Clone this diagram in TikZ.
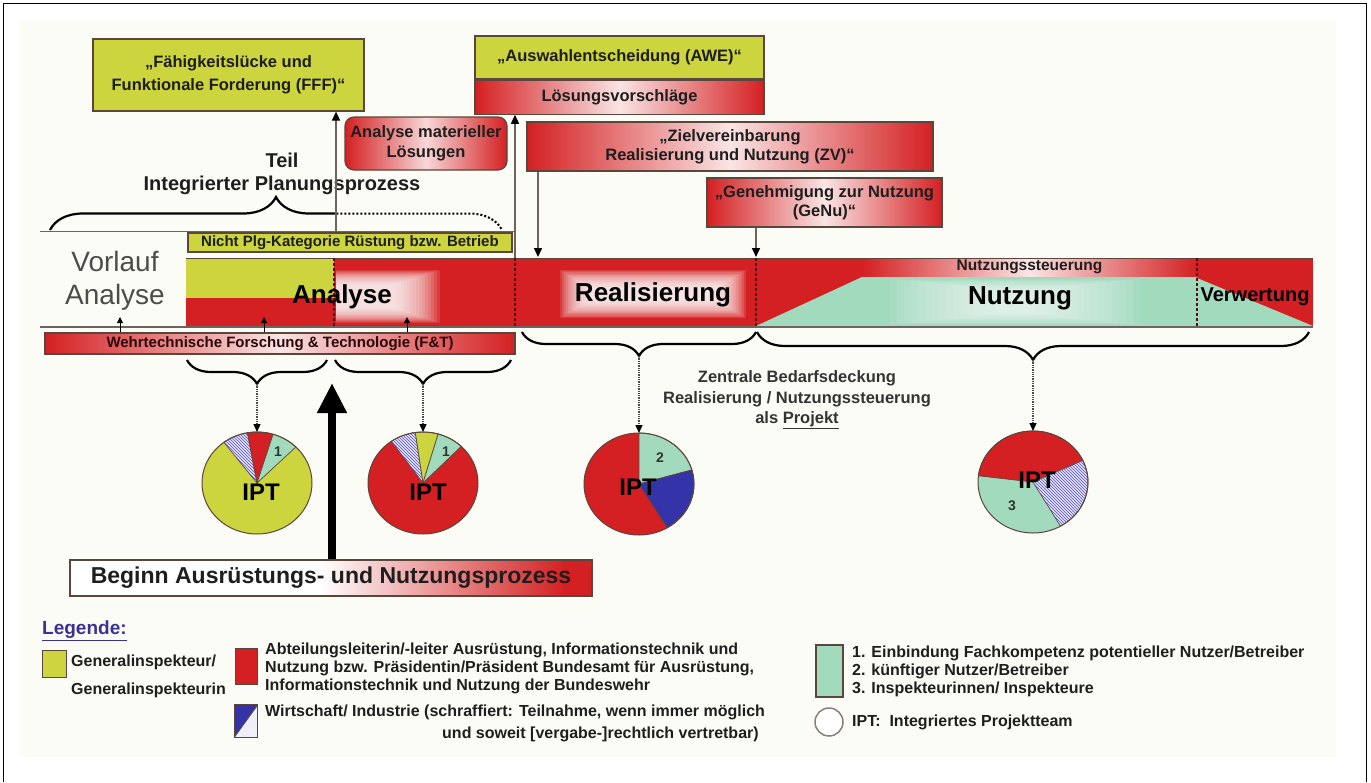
\documentclass[tikz,border=0pt]{standalone}
\usepackage{fontspec}
\setmainfont{Liberation Sans}
\usetikzlibrary{arrows.meta,decorations.pathreplacing,patterns,shapes.geometric}
\definecolor{ygreen}{RGB}{204,212,62}
\definecolor{pred}{RGB}{212,32,34}
\definecolor{mint}{RGB}{162,218,190}
\definecolor{pblue}{RGB}{52,52,168}
\definecolor{lav}{RGB}{226,222,242}
\definecolor{hatchb}{RGB}{90,90,190}
\definecolor{cream}{RGB}{252,252,246}
\definecolor{boxline}{RGB}{90,70,60}
\definecolor{txt}{RGB}{30,30,30}
\definecolor{legblue}{RGB}{60,50,150}
\definecolor{greyline}{RGB}{110,100,95}
\newcommand\pieslice[5]{\begin{scope}[shift={(#1,#2)}, y=1pt]\filldraw[draw=boxline, line width=0.7pt, #5] (0,0) -- (#3:55 and 51) arc[start angle=#3, end angle=#4, x radius=55, y radius=51] -- cycle;\end{scope}}
\tikzset{
 sm/.style={font=\fontsize{16.5}{19}\selectfont\bfseries, text=txt, align=center},
 ybox/.style={sm, draw=boxline, line width=1.2pt, fill=ygreen, inner sep=0pt},
 rbox/.style={sm, draw=boxline, line width=1.2pt, left color=pred, right color=pred, middle color=white!88!pred, inner sep=0pt},
 vline/.style={draw=greyline, line width=1.5pt, -{Triangle[width=8pt,length=9pt,color=black]}},
 smallarr/.style={draw=black, line width=1pt, -{Triangle[width=6pt,length=6pt]}},
 divider/.style={draw=pred!40!black, densely dashed, line width=1.2pt},
 brc/.style={decorate, line width=2.2pt, draw=black},
 dotarr/.style={draw=black!70, densely dotted, line width=1.3pt, -{Triangle[width=7pt,length=8pt,color=black]}},
 big/.style={font=\fontsize{26}{26}\selectfont\bfseries, text=black},
 pie/.style={ellipse, minimum width=110pt, minimum height=102pt, inner sep=0pt, outer sep=0pt},
 ipt/.style={font=\fontsize{24}{24}\selectfont\bfseries, text=black},
 num/.style={font=\fontsize{14}{14}\selectfont\bfseries, text=black!80},
 hatch/.style={fill=lav, postaction={pattern=north west lines, pattern color=hatchb}},
 lt/.style={font=\fontsize{16}{18}\selectfont\bfseries, text=txt, inner sep=0pt, align=left},
}
\begin{document}
\begin{tikzpicture}[x=1pt,y=-1pt]
\useasboundingbox (0,0) rectangle (1371,782);
\fill[white] (0,0) rectangle (1371,782);
\fill[cream] (20,20) rectangle (1336,757);
\draw[line width=1.3pt] (3.5,782) -- (3.5,3.5) -- (1366.5,3.5) -- (1366.5,782);

% ---------- top boxes
\node[ybox, minimum width=271pt, minimum height=72pt, font=\fontsize{16.5}{23}\selectfont\bfseries] (fff) at (228.5,75) {„Fähigkeitslücke und\\Funktionale Forderung (FFF)“};
\node[ybox, minimum width=289pt, minimum height=43pt] (awe) at (619.5,57.5) {„Auswahlentscheidung (AWE)“};
\node[rbox, minimum width=289pt, minimum height=34pt, anchor=north] (lsg) at (awe.south) {Lösungsvorschläge};
\node[rbox, rounded corners=9pt, middle color=pred!18!white, minimum width=162pt, minimum height=53pt, font=\fontsize{16.5}{20}\selectfont\bfseries] (aml) at (426,143.5) {Analyse materieller\\Lösungen};
\node[rbox, minimum width=406pt, minimum height=49pt] (zv) at (730,146.5) {„Zielvereinbarung\\Realisierung und Nutzung (ZV)“};
\node[rbox, minimum width=235pt, minimum height=49pt] (genu) at (824.5,202.5) {„Genehmigung zur Nutzung\\(GeNu)“};

\node[font=\fontsize{20}{23}\selectfont\bfseries, text=txt, align=center] (teil) at (282,173.5) {Teil\\Integrierter Planungsprozess};

% top brace
\begin{scope}
\clip (30,150) rectangle (336,240);
\draw[brc, decoration={brace, amplitude=33pt}] (50,230) -- (502,230);
\end{scope}
\begin{scope}
\clip (336,150) rectangle (530,240);
\draw[brc, line width=2pt, dotted, decoration={brace, amplitude=33pt}] (50,230) -- (502,230);
\end{scope}

\draw[greyline, line width=1pt] (40,231) -- (515,231);
\node[ybox, font=\fontsize{15}{15}\selectfont\bfseries, minimum width=324pt, minimum height=19pt] (npk) at (350,242.5) {Nicht Plg-Kategorie Rüstung bzw. Betrieb};

% ---------- main band
\fill[pred] (186,258) rectangle (1313,326);
\fill[ygreen] (186,258) rectangle (334,298);
\fill[mint] (756,326) -- (862,277) -- (1197,277) -- (1197,326) -- cycle;
\fill[mint] (1197,278) -- (1313,326) -- (1197,326) -- cycle;
\foreach \k in {0,...,15} \fill[white, opacity=0.12] (336,{270+\k*1}) rectangle ({440-\k*3},{323-\k*1});
\foreach \k in {0,...,15} \fill[white, opacity=0.13] ({560+\k*2},{270+\k*1.2}) rectangle ({746-\k*2},{318-\k*1.2});
\foreach \k in {0,...,15} \fill[white, opacity=0.07] ({890+\k*7},{279+\k*0.8}) rectangle ({1140-\k*7},{325-\k*0.8});
\node[rbox, draw=none, font=\fontsize{15.5}{15.5}\selectfont\bfseries, minimum width=335pt, minimum height=18pt] (nst) at (1029.5,267) {Nutzungssteuerung};
\draw[boxline, line width=1pt] (186,258) -- (1313,258);
\draw[greyline, line width=1.2pt] (40,327) -- (1313,327);
\draw[divider] (334,258) -- (334,326);
\draw[divider] (515,258) -- (515,326);
\draw[divider] (756,258) -- (756,326);
\draw[divider] (1197,258) -- (1197,326);

\node[font=\fontsize{28}{33}\selectfont, text=black!70, align=center] (vorl) at (115,281) {Vorlauf\\Analyse};
\node[big] (ana) at (342,297) {Analyse};
\node[big] (real) at (653,295) {Realisierung};
\node[big] (nutz) at (1020,298) {Nutzung};
\node[font=\fontsize{20}{20}\selectfont\bfseries, text=black] (verw) at (1255,297) {Verwertung};

% arrows from top boxes
\coordinate (fffbase) at (336,231);
\draw[vline] (fffbase) -- (fffbase |- fff.south);
\coordinate (awebase) at (515,258);
\draw[vline] (awebase) -- (awebase |- lsg.south);
\coordinate (zvend) at (538,257);
\draw[vline] (zvend |- zv.south) -- (zvend);
\coordinate (genuend) at (756,257);
\draw[vline] (genuend |- genu.south) -- (genuend);

% F&T bar
\node[rbox, font=\fontsize{15}{15}\selectfont\bfseries, text=black!80!pred, minimum width=470pt, minimum height=21pt] (ft) at (280,343.5) {Wehrtechnische Forschung \& Technologie (F\&T)};
\coordinate (u1) at (120,317);
\coordinate (u2) at (264,317);
\coordinate (u3) at (407,317);
\draw[smallarr] (u1 |- ft.north) -- (u1);
\draw[smallarr] (u2 |- ft.north) -- (u2);
\draw[smallarr] (u3 |- ft.north) -- (u3);

% lower braces
\draw[brc, decoration={brace, amplitude=24pt}] (327,360) -- (187,360);
\draw[brc, decoration={brace, amplitude=24pt}] (511,360) -- (335,360);
\draw[brc, decoration={brace, amplitude=24pt}] (756,332) -- (522,332);
\draw[brc, decoration={brace, amplitude=28pt}] (1309,332) -- (757,332);
\coordinate (bA) at (257,384);
\coordinate (bB) at (423,384);
\coordinate (bC) at (639,356);
\coordinate (bD) at (1033,360);

% pies
\node[pie, fill=ygreen] (pie1) at (257,483) {};
\pieslice{257}{483}{100}{127}{hatch}
\pieslice{257}{483}{73}{100}{fill=pred}
\pieslice{257}{483}{45}{73}{fill=mint}
\node[pie, fill=pred] (pie2) at (423,483) {};
\pieslice{423}{483}{98}{125}{hatch}
\pieslice{423}{483}{74}{98}{fill=ygreen}
\pieslice{423}{483}{46}{74}{fill=mint}
\node[pie, fill=pred] (pie3) at (639,484) {};
\pieslice{639}{484}{16}{90}{fill=mint}
\pieslice{639}{484}{-59}{16}{fill=pblue}
\node[pie, fill=mint] (pie4) at (1033,482) {};
\pieslice{1033}{482}{25}{173}{fill=pred}
\pieslice{1033}{482}{-60}{25}{hatch}
\foreach \p in {pie1,pie2,pie3,pie4} \draw[boxline, line width=1pt] (\p.center) ellipse [x radius=55, y radius=51];

\node[num] (n1) at (278,452) {1};
\node[num] (n2) at (446,452) {1};
\node[num] (n3) at (660,458) {2};
\node[num] (n4) at (1012,506) {3};
\node[ipt] (ipt1) at (261,492) {IPT};
\node[ipt] (ipt2) at (428,492) {IPT};
\node[ipt] (ipt3) at (638,487) {IPT};
\node[ipt] (ipt4) at (1037,480) {IPT};

\draw[dotarr] (bA) -- (pie1.north);
\draw[dotarr] (bB) -- (pie2.north);
\draw[dotarr] (bC) -- (pie3.north);
\draw[dotarr] (bD) -- (pie4.north);

% middle text
\node[font=\fontsize{16.5}{20.5}\selectfont\bfseries, text=black!80, align=center] (zbd) at (797,400) {Zentrale Bedarfsdeckung\\Realisierung / Nutzungssteuerung\\als \underline{Projekt}};

% Beginn box and big arrow
\fill[white] (70,560) rectangle (320,596);
\shade[left color=white, right color=pred] (320,560) rectangle (565,596);
\fill[pred] (565,560) rectangle (592,596);
\node[draw=boxline, line width=1.2pt, minimum width=522pt, minimum height=36pt, inner sep=0pt, font=\fontsize{23}{23}\selectfont\bfseries, text=txt] (beg) at (331,578) {Beginn Ausrüstungs- und Nutzungsprozess};
\coordinate (bigtip) at (332,383);
\draw[line width=8pt, -{Triangle[width=28pt,length=30pt]}] (bigtip |- beg.north) -- (bigtip);

% ---------- legend
\node[anchor=west, inner sep=0pt, font=\fontsize{19}{19}\selectfont\bfseries, text=legblue] (leg) at (42,631) {\underline{Legende:}};
\node[draw=boxline, line width=1pt, fill=ygreen, minimum width=24pt, minimum height=27pt, inner sep=0pt] (ly) at (54,663.5) {};
\node[lt, anchor=west] (lyt1) at (71,662) {Generalinspekteur/};
\node[lt, anchor=west] (lyt2) at (71,690) {Generalinspekteurin};
\node[draw=boxline, line width=1pt, fill=pred, minimum width=22pt, minimum height=36pt, inner sep=0pt] (lr) at (246,666) {};
\node[lt, anchor=west] (lrt) at (265,668) {Abteilungsleiterin/-leiter Ausrüstung, Informationstechnik und\\Nutzung bzw. Präsidentin/Präsident Bundesamt für Ausrüstung,\\Informationstechnik und Nutzung der Bundeswehr};
\node[minimum width=23pt, minimum height=32pt, inner sep=0pt] (lb) at (246,721) {};
\fill[pblue] (lb.north west) -- (lb.north east) -- (lb.south west) -- cycle;
\fill[lav!50!white] (lb.north east) -- (lb.south east) -- (lb.south west) -- cycle;
\draw[boxline, line width=1pt] (lb.north west) rectangle (lb.south east);
\draw[black!70, line width=1pt] (lb.north east) -- (lb.south west);
\node[lt, anchor=west] (lbt1) at (265,712) {Wirtschaft/ Industrie (schraffiert: Teilnahme, wenn immer möglich};
\node[lt, anchor=west] (lbt2) at (442,734) {und soweit [vergabe-]rechtlich vertretbar)};
\node[draw=boxline, line width=1.2pt, fill=mint, minimum width=27pt, minimum height=52pt, inner sep=0pt] (lm) at (829.5,671) {};
\node[lt, anchor=west] (lmt) at (852,671) {1. Einbindung Fachkompetenz potentieller Nutzer/Betreiber\\2. künftiger Nutzer/Betreiber\\3. Inspekteurinnen/ Inspekteure};
\node[circle, draw=boxline!70, line width=1.5pt, fill=white, minimum size=28pt, inner sep=0pt] (lc) at (829,722) {};
\node[lt, anchor=west] (lct) at (852,722) {IPT:\ \ Integriertes Projektteam};
\end{tikzpicture}
\end{document}
